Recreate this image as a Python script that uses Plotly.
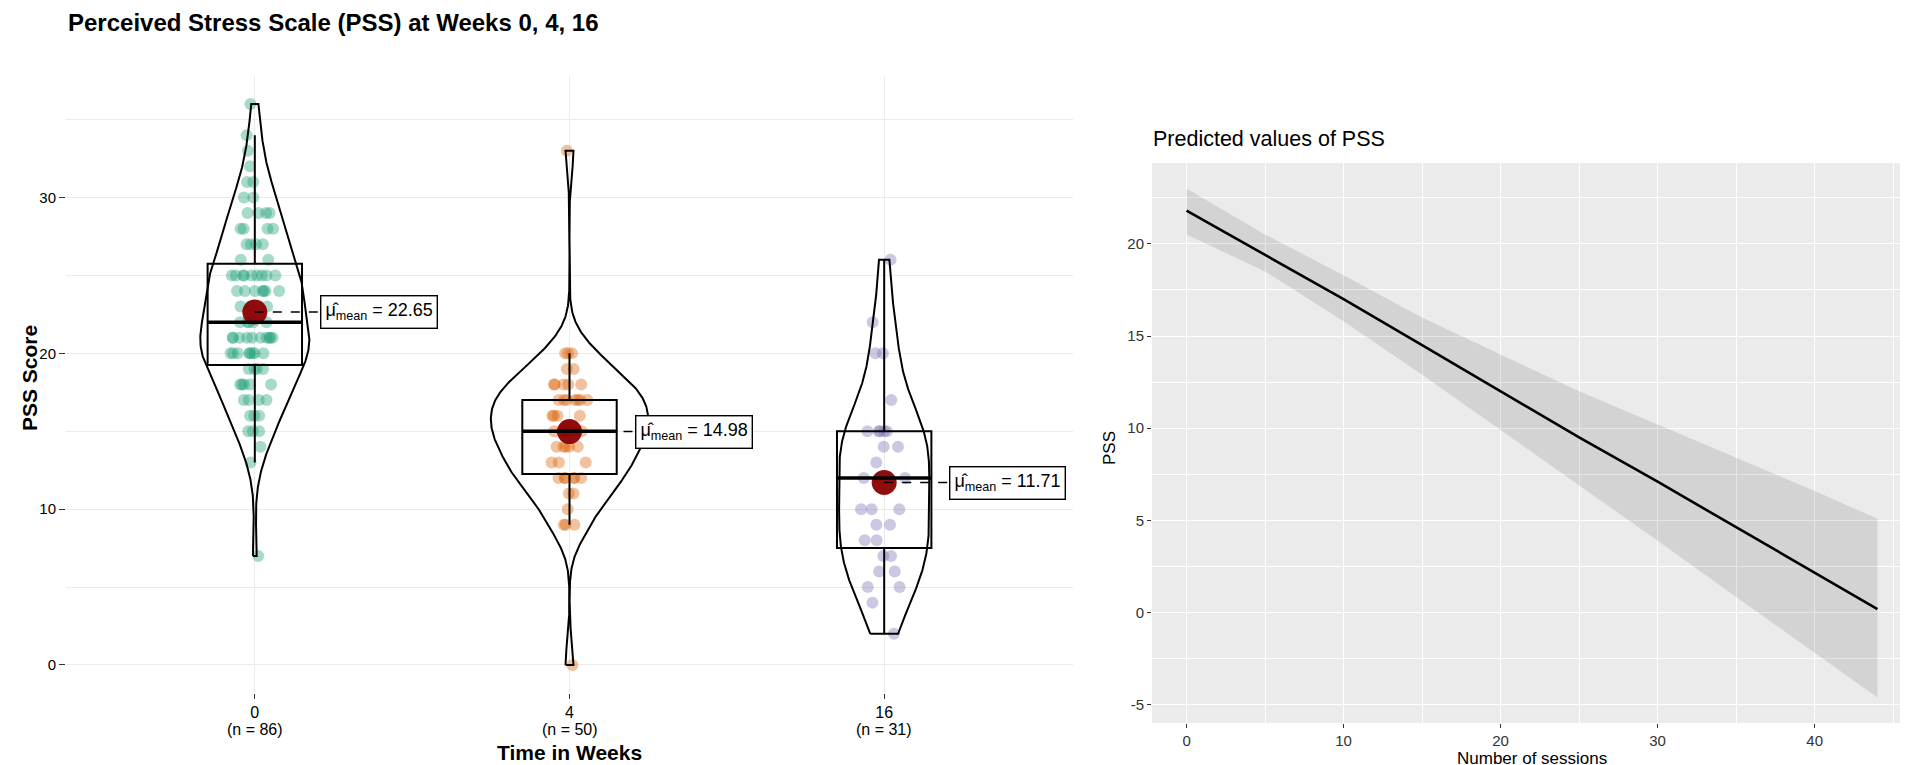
import numpy as np
import plotly.graph_objects as go

# Left panel: PSS score distribution per week (score values and how many points sit on each)
weeks = ["0", "4", "16"]
point_colors = ["#1B9E77", "#D95F02", "#7570B3"]

week0_scores = [7, 13, 14, 15, 16, 17, 18, 19, 20, 21, 22, 23, 24, 25, 26, 27, 28, 29, 30, 31, 32, 33, 34, 36]
week0_counts = [1, 1, 1, 3, 3, 4, 5, 4, 8, 10, 5, 3, 7, 9, 2, 4, 4, 4, 2, 2, 1, 1, 1, 1]

week4_scores = [0, 9, 10, 11, 12, 13, 14, 15, 16, 17, 18, 19, 20, 33]
week4_counts = [1, 3, 1, 2, 6, 3, 5, 7, 4, 7, 5, 2, 3, 1]

week16_scores = [2, 4, 5, 6, 7, 8, 9, 10, 12, 13, 14, 15, 17, 20, 22, 26]
week16_counts = [1, 1, 2, 2, 2, 2, 2, 3, 3, 1, 2, 5, 1, 2, 1, 1]

# Right panel: predicted PSS by number of sessions with confidence band
sessions = [0, 5, 10, 15, 20, 25, 30, 35, 40, 44]
pss_pred = [21.8, 19.4, 17.0, 14.5, 12.0, 9.5, 7.1, 4.65, 2.2, 0.2]
pss_low = [20.5, 18.5, 15.8, 12.9, 9.9, 6.9, 3.9, 0.85, -2.2, -4.6]
pss_high = [23.0, 20.5, 18.3, 16.0, 14.0, 12.0, 10.2, 8.4, 6.6, 5.1]
pss_ticks = [-5, 0, 5, 10, 15, 20]

W, H = 1908, 765
FONT = "Liberation Sans, Arial, sans-serif"
jitter_amounts = [0.55, 0.55, 0.65]


def px_x(p):
    return p / W


def px_y(p):
    return 1 - p / H


def nrd0(v):
    # same default bandwidth as R's density()
    q1, q3 = np.percentile(v, [25, 75])
    spread = min(np.std(v, ddof=1), (q3 - q1) / 1.34)
    return 0.9 * spread * len(v) ** -0.2


def kde(v, bw, grid):
    dens = np.exp(-0.5 * ((grid[:, None] - v[None, :]) / bw) ** 2).sum(axis=1)
    return dens / (len(v) * bw * np.sqrt(2 * np.pi))


groups = [
    np.repeat(week0_scores, week0_counts).astype(float),
    np.repeat(week4_scores, week4_counts).astype(float),
    np.repeat(week16_scores, week16_counts).astype(float),
]
positions = list(range(len(weeks)))

# trimmed gaussian densities, all violins on one area scale (ggplot default)
grids = [np.linspace(g.min(), g.max(), 512) for g in groups]
densities = [kde(g, nrd0(g), grid) for g, grid in zip(groups, grids)]
dens_max = max(d.max() for d in densities)

fig = go.Figure()
shapes = []
annotations = []

# jittered raw points (box itself hidden)
for i, (vals, col) in enumerate(zip(groups, point_colors)):
    fig.add_trace(go.Box(
        x=[positions[i]] * len(vals), y=vals, width=0.3,
        boxpoints="all", jitter=jitter_amounts[i], pointpos=0,
        line=dict(width=0, color="rgba(0,0,0,0)"), fillcolor="rgba(0,0,0,0)",
        marker=dict(color=col, size=12, opacity=0.38),
        xaxis="x", yaxis="y", showlegend=False, hoverinfo="y",
    ))

# violin outlines
for i, (grid, dens) in enumerate(zip(grids, densities)):
    half = 0.25 * dens / dens_max
    xs = np.concatenate([positions[i] - half, (positions[i] + half)[::-1], [positions[i] - half[0]]])
    ys = np.concatenate([grid, grid[::-1], [grid[0]]])
    fig.add_trace(go.Scatter(
        x=xs, y=ys, mode="lines", line=dict(color="black", width=2),
        xaxis="x", yaxis="y", showlegend=False, hoverinfo="skip",
    ))

# boxes, thick medians and mean labels
for i, vals in enumerate(groups):
    q1, med, q3 = np.percentile(vals, [25, 50, 75])
    iqr = q3 - q1
    lo = vals[vals >= q1 - 1.5 * iqr].min()
    hi = vals[vals <= q3 + 1.5 * iqr].max()
    fig.add_trace(go.Box(
        x=[positions[i]], q1=[q1], median=[med], q3=[q3], lowerfence=[lo], upperfence=[hi],
        orientation="v", width=0.3, whiskerwidth=0, boxpoints=False,
        line=dict(color="black", width=2), fillcolor="rgba(255,255,255,0)",
        xaxis="x", yaxis="y", showlegend=False,
    ))
    shapes.append(dict(type="line", xref="x", yref="y", x0=i - 0.15, x1=i + 0.15,
                       y0=med, y1=med, line=dict(color="black", width=3.6)))

    mean = vals.mean()
    shapes.append(dict(type="line", xref="x", yref="y", x0=i, x1=i + 0.207,
                       y0=mean, y1=mean, line=dict(color="black", width=1.4, dash="dash")))
    annotations.append(dict(
        x=i + 0.207, y=mean, xref="x", yref="y", xanchor="left", yanchor="middle",
        text=f"μ̂<sub>mean</sub> = {mean:.2f}", showarrow=False,
        bgcolor="white", bordercolor="black", borderwidth=1.4, borderpad=4,
        font=dict(size=18, color="black", family=FONT),
    ))

    # sample size line under each week tick label
    annotations.append(dict(
        x=positions[i], y=px_y(721), xref="x", yref="paper", xanchor="center", yanchor="middle",
        text=f"(n = {len(vals)})", showarrow=False,
        font=dict(size=16, color="black", family=FONT),
    ))

means = [g.mean() for g in groups]
fig.add_trace(go.Scatter(
    x=positions, y=means, mode="markers", xaxis="x", yaxis="y",
    marker=dict(color="#8B0000", size=25, opacity=0.95), showlegend=False,
))

# Right panel
fig.add_trace(go.Scatter(
    x=sessions, y=pss_low, mode="lines", line=dict(width=0),
    xaxis="x2", yaxis="y2", showlegend=False, hoverinfo="skip",
))
fig.add_trace(go.Scatter(
    x=sessions, y=pss_high, mode="lines", line=dict(width=0),
    fill="tonexty", fillcolor="rgba(0,0,0,0.1)",
    xaxis="x2", yaxis="y2", showlegend=False, hoverinfo="skip",
))
fig.add_trace(go.Scatter(
    x=sessions, y=pss_pred, mode="lines", line=dict(color="black", width=2.6),
    xaxis="x2", yaxis="y2", showlegend=False,
))

shapes.append(dict(type="rect", xref="x2 domain", yref="y2 domain", x0=0, x1=1, y0=0, y1=1,
                   fillcolor="#EBEBEB", line=dict(width=0), layer="below"))

text_items = [
    ("<b>Perceived Stress Scale (PSS) at Weeks 0, 4, 16</b>", 58, 14, 24, "left", 0),
    ("Predicted values of PSS", 1143, 131, 21.5, "left", 0),
    ("<b>PSS Score</b>", 21, 370, 21, "center", -90),
    ("<b>Time in Weeks</b>", 561, 744, 21, "center", 0),
    ("PSS", 1102, 440, 17, "center", -90),
    ("Number of sessions", 1524, 750, 17, "center", 0),
]
for txt, x, y, size, anchor, angle in text_items:
    annotations.append(dict(
        x=px_x(x), y=px_y(y), xref="paper", yref="paper", xanchor=anchor, yanchor="middle",
        text=txt, showarrow=False, textangle=angle,
        font=dict(size=size, color="black", family=FONT),
    ))

fig.update_layout(
    width=W, height=H,
    margin=dict(l=0, r=0, t=0, b=0),
    paper_bgcolor="white", plot_bgcolor="white",
    font=dict(family=FONT, color="black"),
    boxmode="overlay",
    shapes=shapes, annotations=annotations,
    xaxis=dict(
        domain=[px_x(58), px_x(1065)], anchor="y", range=[-0.6, 2.6],
        tickvals=positions, ticktext=weeks, tickfont=dict(size=16, color="black"),
        ticks="outside", ticklen=5, tickcolor="#333", showgrid=True,
        gridcolor="#EBEBEB", gridwidth=1.2, zeroline=False, showline=False,
    ),
    yaxis=dict(
        domain=[px_y(685), px_y(68)], anchor="x", range=[-1.8, 37.8],
        tickvals=[0, 10, 20, 30], tickfont=dict(size=15, color="black"),
        ticks="outside", ticklen=6, tickcolor="#333", showgrid=True,
        gridcolor="#EBEBEB", gridwidth=1.2, zeroline=False, showline=False,
        minor=dict(tickvals=[5, 15, 25, 35], showgrid=True, gridcolor="#EBEBEB", gridwidth=1.2),
    ),
    xaxis2=dict(
        domain=[px_x(1144), px_x(1904)], anchor="y2", range=[-2.2, 46.2],
        tick0=0, dtick=10, tickfont=dict(size=15, color="#333"),
        ticks="outside", ticklen=4, tickcolor="#333", showgrid=True,
        gridcolor="white", gridwidth=1.4, zeroline=False, showline=False,
        minor=dict(tick0=0, dtick=5, showgrid=True, gridcolor="white", gridwidth=0.7),
    ),
    yaxis2=dict(
        domain=[px_y(715), px_y(155)], anchor="x2", range=[-5.98, 24.38],
        tickvals=pss_ticks, ticktext=[str(t) for t in pss_ticks],
        tickfont=dict(size=15, color="#333"),
        ticks="outside", ticklen=4, tickcolor="#333", showgrid=True,
        gridcolor="white", gridwidth=1.4, zeroline=False, showline=False,
        minor=dict(tick0=0, dtick=2.5, showgrid=True, gridcolor="white", gridwidth=0.7),
    ),
)

fig.write_html("out.html")
